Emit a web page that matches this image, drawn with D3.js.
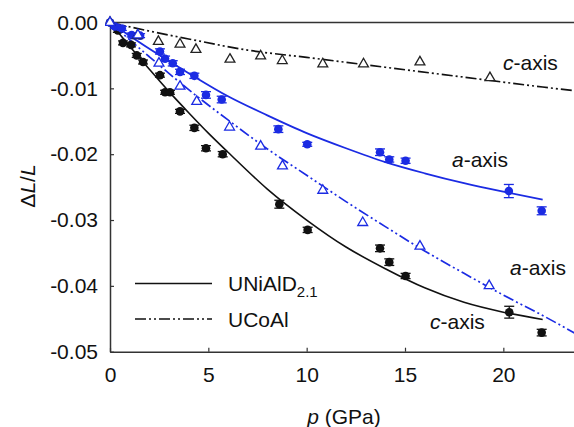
<!DOCTYPE html>
<html><head><meta charset="utf-8">
<script src="https://cdn.jsdelivr.net/npm/d3@7"></script>
<style>
html,body{margin:0;padding:0;background:#fff;}
svg{display:block;font-family:"Liberation Sans",Arial,sans-serif;}
</style></head>
<body>
<svg id="chart" width="574" height="427"></svg>
<script>
// ---- data ----
const xTicks = [0, 5, 10, 15, 20];
const yTicks = [0, -0.01, -0.02, -0.03, -0.04, -0.05];

// UNiAlD2.1 a-axis (blue filled circles)
const niA_p   = [0, 0.25, 0.6, 1.1, 1.53, 2.54, 2.80, 3.19, 3.56, 4.29, 4.88, 5.68, 8.56, 10.03, 13.73, 14.20, 15.03, 20.28, 21.95];
const niA_v   = [0, -0.0006, -0.0009, -0.0019, -0.0020, -0.0044, -0.0055, -0.0062, -0.0075, -0.0081, -0.0110, -0.0117, -0.0162, -0.0185, -0.0197, -0.0208, -0.0210, -0.0256, -0.0286];
const niA_err = [0, 0.0003, 0.0003, 0.0003, 0.0003, 0.0004, 0.0004, 0.0004, 0.0004, 0.0004, 0.0005, 0.0005, 0.0005, 0.0003, 0.0005, 0.0004, 0.0004, 0.0010, 0.0006];

// UNiAlD2.1 c-axis (black filled circles)
const niC_p   = [0, 0.4, 0.66, 1.07, 1.36, 1.68, 2.54, 2.80, 3.05, 3.56, 4.29, 4.88, 5.73, 8.61, 10.05, 13.73, 14.20, 15.03, 20.30, 21.95];
const niC_v   = [0, -0.0012, -0.0031, -0.0034, -0.0050, -0.0060, -0.0080, -0.0106, -0.0106, -0.0135, -0.0160, -0.0191, -0.0200, -0.0276, -0.0315, -0.0343, -0.0364, -0.0385, -0.0440, -0.0471];
const niC_err = [0, 0.0003, 0.0003, 0.0003, 0.0003, 0.0003, 0.0003, 0.0003, 0.0003, 0.0003, 0.0004, 0.0004, 0.0004, 0.0006, 0.0004, 0.0005, 0.0005, 0.0004, 0.0009, 0.0005];

// UCoAl a-axis (blue open triangles)
const coA_p = [0, 1.42, 2.49, 3.56, 4.41, 6.08, 7.66, 8.77, 10.82, 12.85, 15.76, 19.28];
const coA_v = [0, -0.0019, -0.0062, -0.0097, -0.0120, -0.0159, -0.0188, -0.0218, -0.0255, -0.0304, -0.0340, -0.0400];

// UCoAl c-axis (black open triangles)
const coC_p = [0, 1.39, 2.46, 3.56, 4.37, 6.10, 7.66, 8.76, 10.82, 12.89, 15.76, 19.32];
const coC_v = [0, -0.0020, -0.0029, -0.0033, -0.0041, -0.0056, -0.0051, -0.0058, -0.0063, -0.0063, -0.0060, -0.0084];

// fit curves
const fitNiA_p = [0, 2, 4, 6, 8, 10, 12, 14, 16, 18, 20, 22];
const fitNiA_v = [0, -0.0040, -0.0077, -0.0112, -0.0141, -0.0168, -0.0191, -0.0212, -0.0229, -0.0244, -0.0257, -0.0269];
const fitNiC_p = [0, 1, 2, 3, 4, 5, 6, 8, 10, 12, 14, 16, 18, 20, 22];
const fitNiC_v = [0, -0.0036, -0.0071, -0.0105, -0.0137, -0.0168, -0.0197, -0.0253, -0.0300, -0.0341, -0.0374, -0.0403, -0.0425, -0.0440, -0.0451];
const fitCoA_p = [0, 2, 4, 6, 8, 10, 12, 14, 16, 18, 20, 22, 24];
const fitCoA_v = [0, -0.0052, -0.0102, -0.0148, -0.0192, -0.0232, -0.0272, -0.0310, -0.0347, -0.0381, -0.0414, -0.0445, -0.0478];
const fitCoC_p = [0, 2, 4, 7, 10, 14, 18, 22, 24];
const fitCoC_v = [0, -0.0013, -0.0025, -0.0042, -0.0053, -0.0068, -0.0083, -0.0098, -0.0105];

const legendLabels = ["UNiAlD", "UCoAl"];

// ---- drawing ----
const BLUE = "#1b2be3", BLACK = "#111";
const svg = d3.select("#chart");
const x = d3.scaleLinear().domain([0, 24]).range([110, 582]);
const y = d3.scaleLinear().domain([0, -0.05]).range([22.5, 351.7]);
const FS = 21;

svg.append("defs").append("clipPath").attr("id","clip")
  .append("rect").attr("x", 105).attr("y", 15).attr("width", 480).attr("height", 345);

// axes
const gx = svg.append("g").attr("transform", `translate(0,${y(-0.05)})`)
  .call(d3.axisBottom(x).tickValues(xTicks).tickSizeInner(-4).tickSizeOuter(0).tickPadding(15).tickFormat(d3.format("d")));
const gy = svg.append("g").attr("transform", `translate(${x(0)},0)`)
  .call(d3.axisLeft(y).tickValues(yTicks).tickSizeInner(-4).tickSizeOuter(0).tickPadding(12).tickFormat(d3.format(".2f")));
[gx, gy].forEach(g => {
  g.selectAll("path.domain").attr("stroke", "#333").attr("stroke-width", 1.5);
  g.selectAll(".tick line").attr("stroke", "#333").attr("stroke-width", 1.2);
  g.selectAll(".tick text").attr("font-size", FS).attr("fill", "#111")
   .attr("font-family", '"Liberation Sans",Arial,sans-serif');
});
gy.selectAll(".tick text").text(d => d === 0 ? "0.00" : d3.format(".2f")(d).replace("−", "-"));
// top frame line
svg.append("line").attr("x1", x(0)).attr("x2", 574).attr("y1", y(0)).attr("y2", y(0))
  .attr("stroke", "#333").attr("stroke-width", 1.5);

// axis titles
const xt = svg.append("text").attr("x", 344).attr("y", 424).attr("text-anchor", "middle")
  .attr("font-size", FS).attr("fill", "#111");
xt.append("tspan").attr("font-style", "italic").text("p");
xt.append("tspan").text(" (GPa)");
const yt = svg.append("text").attr("transform", "translate(35,186) rotate(-90)").attr("text-anchor", "middle")
  .attr("font-size", FS).attr("fill", "#111");
yt.append("tspan").text("Δ");
yt.append("tspan").attr("font-style", "italic").text("L");
yt.append("tspan").text("/");
yt.append("tspan").attr("font-style", "italic").text("L");

const plot = svg.append("g").attr("clip-path", "url(#clip)");
const line = d3.line().x(d => x(d[0])).y(d => y(d[1])).curve(d3.curveMonotoneX);
const zipPts = (ps, vs) => ps.map((p, i) => [p, vs[i]]);
const DASH = "11,3,2,3,2,3";

plot.append("path").datum(zipPts(fitCoC_p, fitCoC_v)).attr("d", line)
  .attr("fill", "none").attr("stroke", BLACK).attr("stroke-width", 1.7).attr("stroke-dasharray", DASH);
plot.append("path").datum(zipPts(fitCoA_p, fitCoA_v)).attr("d", line)
  .attr("fill", "none").attr("stroke", BLUE).attr("stroke-width", 1.7).attr("stroke-dasharray", DASH);
plot.append("path").datum(zipPts(fitNiC_p, fitNiC_v)).attr("d", line)
  .attr("fill", "none").attr("stroke", BLACK).attr("stroke-width", 1.6);
plot.append("path").datum(zipPts(fitNiA_p, fitNiA_v)).attr("d", line)
  .attr("fill", "none").attr("stroke", BLUE).attr("stroke-width", 1.8);

// filled circles with error bars
function circles(ps, vs, es, col) {
  const g = plot.append("g");
  const data = ps.map((p, i) => ({p, v: vs[i], e: es[i]}));
  const eb = g.selectAll("g.eb").data(data.filter(d => d.e > 0)).join("g")
    .attr("stroke", col).attr("stroke-width", 1.3);
  eb.append("line").attr("x1", d => x(d.p)).attr("x2", d => x(d.p))
    .attr("y1", d => y(d.v - d.e)).attr("y2", d => y(d.v + d.e));
  eb.append("line").attr("x1", d => x(d.p) - 5).attr("x2", d => x(d.p) + 5)
    .attr("y1", d => y(d.v - d.e)).attr("y2", d => y(d.v - d.e));
  eb.append("line").attr("x1", d => x(d.p) - 5).attr("x2", d => x(d.p) + 5)
    .attr("y1", d => y(d.v + d.e)).attr("y2", d => y(d.v + d.e));
  g.selectAll("circle").data(data).join("circle")
    .attr("cx", d => x(d.p)).attr("cy", d => y(d.v)).attr("r", 4.3).attr("fill", col);
}
circles(niC_p, niC_v, niC_err, BLACK);
circles(niA_p, niA_v, niA_err, BLUE);

// open triangles
const tri = d3.symbol().type(d3.symbolTriangle).size(42);
function triangles(ps, vs, col) {
  plot.append("g").selectAll("path").data(ps.map((p, i) => [p, vs[i]])).join("path")
    .attr("d", tri).attr("transform", d => `translate(${x(d[0])},${y(d[1])})`)
    .attr("fill", "#fff").attr("stroke", col).attr("stroke-width", 1.3);
}
triangles(coC_p, coC_v, "#222");
triangles(coA_p, coA_v, BLUE);

// series labels
function axisLabel(tx, ty, letter) {
  const t = svg.append("text").attr("x", tx).attr("y", ty).attr("font-size", FS).attr("fill", "#111");
  t.append("tspan").attr("font-style", "italic").text(letter);
  t.append("tspan").text("-axis");
}
axisLabel(503, 70, "c");
axisLabel(452, 167, "a");
axisLabel(510, 275, "a");
axisLabel(430, 329, "c");

// legend
svg.append("line").attr("x1", 135).attr("x2", 212).attr("y1", 283.5).attr("y2", 283.5)
  .attr("stroke", BLACK).attr("stroke-width", 1.6);
svg.append("line").attr("x1", 135).attr("x2", 212).attr("y1", 319).attr("y2", 319)
  .attr("stroke", BLACK).attr("stroke-width", 1.6).attr("stroke-dasharray", DASH);
const l1 = svg.append("text").attr("x", 228).attr("y", 291).attr("font-size", FS).attr("fill", "#111");
l1.append("tspan").text(legendLabels[0]);
l1.append("tspan").attr("font-size", 15).attr("dy", 6).text("2.1");
svg.append("text").attr("x", 228).attr("y", 327).attr("font-size", FS).attr("fill", "#111").text(legendLabels[1]);
</script>
</body></html>
